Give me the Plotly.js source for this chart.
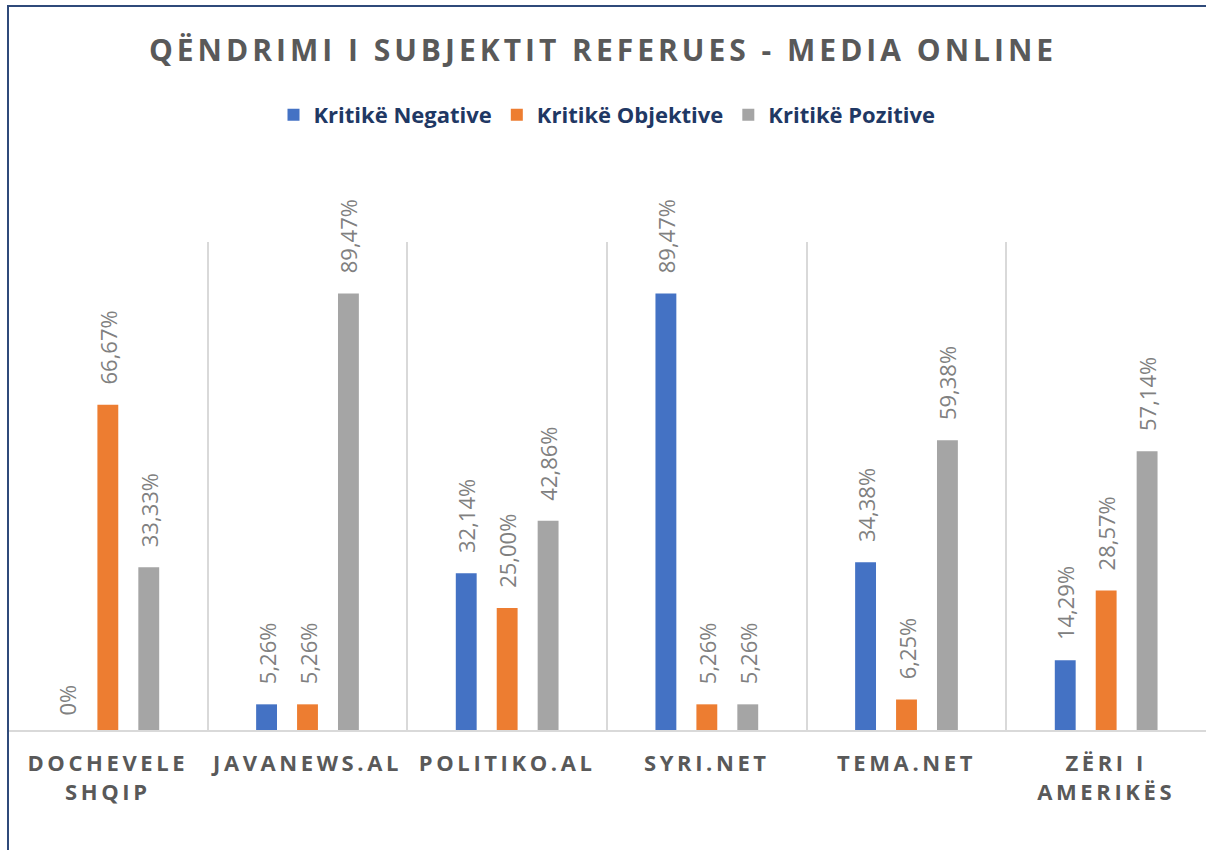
<!DOCTYPE html>
<html>
<head>
<meta charset="utf-8">
<script src="https://cdn.plot.ly/plotly-3.0.1.min.js"></script>
<style>
  body { margin: 0; background: #fff; }
  #chart { position: absolute; left: 0; top: 0; width: 1206px; height: 850px; }
  #frame { position: absolute; left: 7px; top: 5px; width: 1210px; height: 860px;
           border-left: 2px solid #2F4A7A; border-top: 2px solid #2F4A7A; pointer-events: none; }
  .gtitle { letter-spacing: 4px; }
  .xtick text { letter-spacing: 3.6px; }
</style>
</head>
<body>
<div id="chart"></div>
<div id="frame"></div>
<script>
const outlets = ['DOCHEVELE<br>SHQIP', 'JAVANEWS.AL', 'POLITIKO.AL', 'SYRI.NET', 'TEMA.NET', 'ZËRI I<br>AMERIKËS'];

const negative = [0, 5.26, 32.14, 89.47, 34.38, 14.29];
const objective = [66.67, 5.26, 25.00, 5.26, 6.25, 28.57];
const positive = [33.33, 89.47, 42.86, 5.26, 59.38, 57.14];

function pct(v) {
    if (v === 0) return '\u00a0\u00a00%';
    return '\u00a0\u00a0\u00a0' + v.toFixed(2).replace('.', ',') + '%';
}

function makeBar(vals, name, color) {
    return {
        type: 'bar',
        x: outlets,
        y: vals,
        name: name,
        marker: { color: color },
        text: vals.map(pct),
        textposition: 'outside',
        textangle: -90,
        constraintext: 'none',
        cliponaxis: false,
        textfont: { family: 'Open Sans, sans-serif', size: 22, color: '#808080' },
        hoverinfo: 'skip'
    };
}

var data = [
    makeBar(negative, 'Kritikë Negative', '#4472C4'),
    makeBar(objective, 'Kritikë Objektive', '#ED7D31'),
    makeBar(positive, 'Kritikë Pozitive', '#A5A5A5')
];

var layout = {
    width: 1206,
    height: 850,
    margin: { l: 8, r: 0, t: 242, b: 120 },
    paper_bgcolor: '#ffffff',
    plot_bgcolor: '#ffffff',
    barmode: 'group',
    bargap: 0.385,
    bargroupgap: 0.49,
    title: {
        text: 'QËNDRIMI I SUBJEKTIT REFERUES - MEDIA ONLINE',
        x: 0.5,
        xanchor: 'center',
        y: 1 - 50 / 850,
        yanchor: 'middle',
        font: { family: 'Open Sans, sans-serif', size: 30, color: '#595959', weight: 'bold' }
    },
    showlegend: true,
    legend: {
        orientation: 'h',
        x: 0.5,
        xanchor: 'center',
        y: 1 - 115 / 850,
        yref: 'container',
        yanchor: 'middle',
        font: { family: 'Open Sans, sans-serif', size: 22, color: '#1F3864', weight: 'bold' },
        itemwidth: 30,
        traceorder: 'normal'
    },
    xaxis: {
        type: 'category',
        tickson: 'boundaries',
        showgrid: true,
        gridcolor: '#D9D9D9',
        gridwidth: 2,
        showline: true,
        linecolor: '#D9D9D9',
        linewidth: 2,
        ticks: '',
        ticklabelstandoff: 13,
        tickfont: { family: 'Open Sans, sans-serif', size: 22, color: '#595959', weight: 'bold' },
        range: [-0.5, 5.5],
        fixedrange: true
    },
    yaxis: {
        range: [0, 100],
        showgrid: false,
        zeroline: false,
        showticklabels: false,
        showline: false,
        fixedrange: true
    }
};

Plotly.newPlot('chart', data, layout, { displayModeBar: false, staticPlot: true });
</script>
</body>
</html>
